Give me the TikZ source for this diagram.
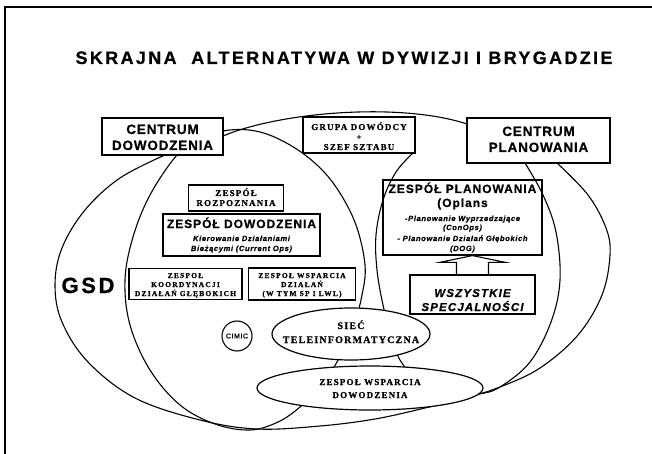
\documentclass[tikz,border=0pt]{standalone}
\usepackage{fontspec}
\setmainfont{Liberation Serif}
\newfontfamily\sansf{Liberation Sans}
\usetikzlibrary{shapes.geometric,calc}
\begin{document}
\begin{tikzpicture}[x=1pt,y=-1pt,
  frameline/.style={line width=1.5pt},
  curve/.style={line width=1.1pt},
  box/.style={draw, line width=1.2pt, fill=white, inner sep=0pt},
  openbox/.style={draw, line width=1.2pt, inner sep=0pt},
  oval/.style={draw, ellipse, line width=1.2pt, fill=white, inner sep=0pt},
  txt/.style={inner sep=0pt, anchor=base},
  titletxt/.style={txt, font=\sansf\bfseries\fontsize{18}{20}\selectfont\addfontfeatures{LetterSpace=13,FakeBold=0.6}},
  heading/.style={txt, font=\sansf\bfseries\fontsize{13.5}{15}\selectfont\addfontfeatures{LetterSpace=6,FakeBold=0.6}},
  team/.style={txt, font=\sansf\bfseries\fontsize{12}{13}\selectfont\addfontfeatures{LetterSpace=8,FakeBold=0.6}},
  note/.style={txt, font=\sansf\bfseries\itshape\fontsize{7.5}{8}\selectfont\addfontfeatures{LetterSpace=9,FakeBold=0.8}},
  capsA/.style={txt, font=\bfseries\fontsize{9}{9}\selectfont\addfontfeatures{LetterSpace=13,FakeBold=0.8}},
  capsB/.style={txt, font=\bfseries\fontsize{7.5}{8}\selectfont\addfontfeatures{LetterSpace=16,FakeBold=0.8}},
  capsC/.style={txt, font=\bfseries\fontsize{10}{10}\selectfont\addfontfeatures{LetterSpace=12,FakeBold=0.8}},
  spec/.style={txt, font=\sansf\bfseries\itshape\fontsize{11.5}{12}\selectfont\addfontfeatures{LetterSpace=10,FakeBold=0.6}},
]
\useasboundingbox (0,0) rectangle (652,454);

% page frame
\draw[frameline] (5,454) -- (5,7) -- (652,7);

% title
\node[titletxt] (title) at (344,64) {SKRAJNA\ \ ALTERNATYWA W DYWIZJI I BRYGADZIE};

% outer envelope: top arc between the two centres
\draw[curve] (223,136) .. controls (280,112) and (400,102) .. (467,124);
% outer envelope: left, bottom and right side
\draw[curve] plot[smooth, tension=0.6] coordinates {
  (165,155) (120,178) (85,210) (62,248) (55,285) (62,322) (88,362)
  (135,398) (200,420) (257,429) (320,426) (375,419) (425,408) (465,398)
  (500,387) (540,368) (578,335) (602,295) (610,255) (606,228) (588,195) (557,163)};

% command ellipse
\draw[curve] plot[smooth cycle, tension=0.6] coordinates {
  (177,155) (150,195) (133,237) (125,280) (130,325) (150,370) (180,405)
  (215,424) (250,430) (278,422) (300,407) (322,385) (338,360) (353,328)
  (362,295) (365,265) (356,225) (338,190) (317,165) (290,145) (260,132)
  (230,130) (200,138)};

% planning ellipse
\draw[curve] plot[smooth, tension=0.6] coordinates {
  (413,153) (396,172) (383,200) (376,235) (377,270) (383,305) (391,335)
  (400,360) (420,382) (450,394) (478,394) (500,387) (530,362) (551,322)
  (560,280) (556,232) (543,195) (525,163)};

% centres and command group
\node[box, minimum width=121pt, minimum height=37pt] (cd) at (162.5,136.5) {};
\node[heading] (cd1) at (cd.center |- 0,134) {CENTRUM};
\node[heading] (cd2) at (cd.center |- 0,150) {DOWODZENIA};

\node[box, minimum width=112pt, minimum height=36pt] (gr) at (359,135) {};
\node[capsA] (gr1) at (gr.center |- 0,130) {GRUPA DOWÓDCY};
\node[capsA] (gr2) at (gr.center |- 0,140) {+};
\node[capsA] (gr3) at (gr.center |- 0,150) {SZEF SZTABU};

\node[box, minimum width=143pt, minimum height=45pt] (cp) at (538.5,140.5) {};
\node[heading] (cp1) at (cp.center |- 0,136) {CENTRUM};
\node[heading] (cp2) at (cp.center |- 0,152) {PLANOWANIA};

% command post teams
\node[box, minimum width=95pt, minimum height=26pt] (zr) at (236,198) {};
\node[capsA] (zr1) at (zr.center |- 0,196) {ZESPÓŁ};
\node[capsA] (zr2) at (zr.center |- 0,206) {ROZPOZNANIA};

\node[box, minimum width=157pt, minimum height=42pt] (zd) at (241.5,235) {};
\node[team] (zd1) at (zd.center |- 0,228) {ZESPÓŁ DOWODZENIA};
\node[note] (zd2) at (zd.center |- 0,241) {Kierowanie Działaniami};
\node[note] (zd3) at (zd.center |- 0,251) {Bieżącymi (Current Ops)};

\node[box, minimum width=113pt, minimum height=31pt] (zk) at (185.5,284) {};
\node[capsB] (zk1) at (zk.center |- 0,278) {ZESPOŁ};
\node[capsB] (zk2) at (zk.center |- 0,287) {KOORDYNACJI};
\node[capsB] (zk3) at (zk.center |- 0,296) {DZIAŁAŃ GŁĘBOKICH};

\node[box, minimum width=107pt, minimum height=32pt] (zw) at (302,284) {};
\node[capsB] (zw1) at (zw.center |- 0,278) {ZESPOŁ WSPARCIA};
\node[capsB] (zw2) at (zw.center |- 0,287) {DZIAŁAŃ};
\node[capsB] (zw3) at (zw.center |- 0,296) {(W TYM SP I LWL)};

\node[txt, font=\sansf\bfseries\fontsize{22}{24}\selectfont\addfontfeatures{LetterSpace=12,FakeBold=0.6}] (gsd) at (88,293) {GSD};

\node[draw, circle, line width=1.1pt, fill=white, minimum size=30pt, inner sep=0pt,
      font=\sansf\fontsize{7}{8}\selectfont\addfontfeatures{LetterSpace=8,FakeBold=0.6}] (cimic) at (237,336) {CIMIC};

% network and command support
\node[oval, minimum width=158pt, minimum height=52pt] (net) at (351,334) {};
\node[capsC] (net1) at (net.center |- 0,329) {SIEĆ};
\node[capsC] (net2) at (net.center |- 0,343) {TELEINFORMATYCZNA};

\node[oval, minimum width=226pt, minimum height=44pt] (zwd) at (370,388) {};
\node[capsA] (zwd1) at (zwd.center |- 0,385) {ZESPOŁ WSPARCIA};
\node[capsA] (zwd2) at (zwd.center |- 0,398) {DOWODZENIA};

% planning group
\node[openbox, minimum width=159pt, minimum height=75pt] (zp) at (462.5,217.5) {};
\node[team] (zp1) at (zp.center |- 0,193) {ZESPÓŁ PLANOWANIA};
\node[team] (zp2) at (zp.center |- 0,207) {(Oplans};
\node[note] (zp3) at (zp.center |- 0,221) {-Planowanie Wyprzedzające};
\node[note] (zp4) at (zp.center |- 0,230) {(ConOps)};
\node[note] (zp5) at (zp.center |- 0,241) {- Planowanie Działań Głębokich};
\node[note] (zp6) at (zp.center |- 0,251) {(DOG)};

\node[box, minimum width=125pt, minimum height=39pt] (wsz) at (472.5,294.5) {};
\node[spec] (wsz1) at (wsz.center |- 0,297) {WSZYSTKIE};
\node[spec] (wsz2) at (wsz.center |- 0,311) {SPECJALNOŚCI};

% hollow block arrow from all specialities up to the planning team
\draw[line width=1.1pt]
  ($(wsz.north)+(-16,0)$) -- ++(0,-12) -- ++(-17,0)
  -- (wsz.north |- zp.south)
  -- ($(wsz.north)+(33,-12)$) -- ++(-17,0) -- ($(wsz.north)+(16,0)$);
\end{tikzpicture}
\end{document}
